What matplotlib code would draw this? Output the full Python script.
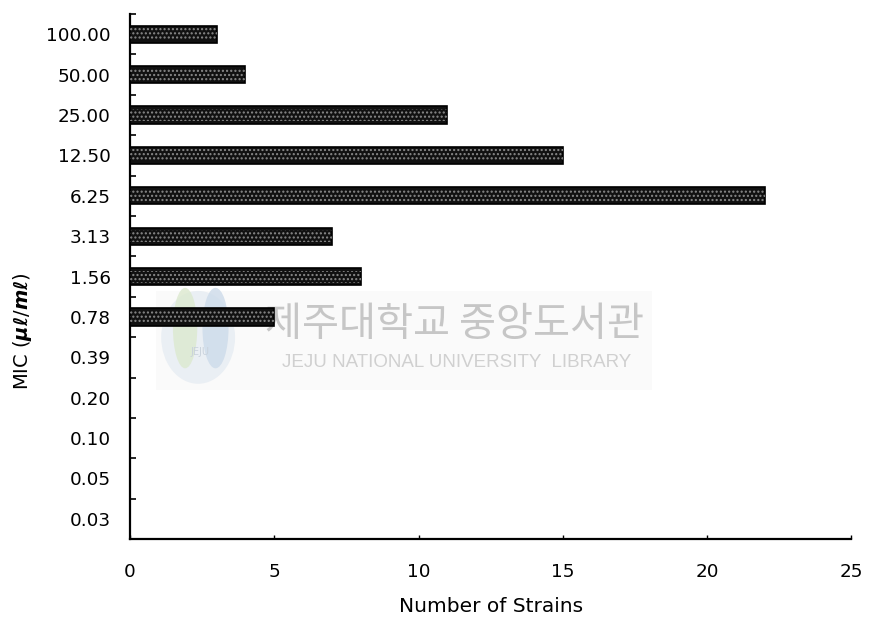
import matplotlib
matplotlib.use("Agg")
import matplotlib.pyplot as plt
from matplotlib.patches import Ellipse, Rectangle
import numpy as np

# MIC concentrations (µl/ml), top to bottom
mic_labels = ["100.00", "50.00", "25.00", "12.50", "6.25", "3.13", "1.56",
              "0.78", "0.39", "0.20", "0.10", "0.05", "0.03"]
# number of strains at each MIC
strain_counts = [3, 4, 11, 15, 22, 7, 8, 5, 0, 0, 0, 0, 0]
x_ticks = [0, 5, 10, 15, 20, 25]

plt.rcParams["font.family"] = ["DejaVu Sans"]
plt.rcParams["mathtext.fontset"] = "custom"
plt.rcParams["mathtext.it"] = "DejaVu Sans:bold:italic"
plt.rcParams["mathtext.rm"] = "DejaVu Sans:bold"

fig = plt.figure(figsize=(8.69, 6.19), dpi=100)
fig.patch.set_facecolor("white")
ax = fig.add_axes([0.1496, 0.1292, 0.830, 0.848])
ax.set_zorder(2)
ax.patch.set_alpha(0)

pos = np.arange(len(mic_labels))
ax.barh(pos, strain_counts, height=0.43, color="#111111",
        edgecolor="black", linewidth=1.2, zorder=3)
# speckled texture on the bars
ax.barh(pos, strain_counts, height=0.30, color="none",
        edgecolor="#8a8a8a", linewidth=0, hatch="....", zorder=4)

ax.set_xlim(0, 25)
ax.set_ylim(len(mic_labels) - 0.5, -0.5)

# category boundaries carry the tick marks, centres carry the labels
ax.set_yticks(np.arange(-0.5, len(mic_labels), 1.0))
ax.set_yticklabels([])
ax.set_yticks(pos, minor=True)
ax.set_yticklabels(mic_labels, minor=True, fontsize=13.2)
ax.tick_params(axis="y", which="major", direction="in", length=4,
               width=1.2, left=True)
ax.tick_params(axis="y", which="minor", length=0, pad=14)

ax.set_xticks(x_ticks)
ax.set_xticklabels([str(t) for t in x_ticks], fontsize=13.2)
ax.tick_params(axis="x", direction="in", length=3, width=1.0, pad=17)

for side in ("top", "right"):
    ax.spines[side].set_visible(False)
for side in ("left", "bottom"):
    ax.spines[side].set_linewidth(1.6)

ax.set_xlabel("Number of Strains", fontsize=14.5, labelpad=12)
fig.text(0.026, 0.465, r"MIC ($\mu\ell$/$m\ell$)", rotation=90,
         fontsize=14, ha="center", va="center")

# faint library watermark
fig.patches.append(Rectangle((0.18, 0.37), 0.57, 0.16,
                             transform=fig.transFigure,
                             facecolor="#fafafa", edgecolor="none",
                             zorder=0))
fig.patches.append(Ellipse((0.228, 0.455), 0.085, 0.15,
                           transform=fig.transFigure,
                           facecolor="#eaeff4", edgecolor="none",
                           zorder=0.5))
fig.patches.append(Ellipse((0.213, 0.47), 0.028, 0.13,
                           transform=fig.transFigure,
                           facecolor="#dce9cf", edgecolor="none",
                           alpha=0.8, zorder=0.6))
fig.patches.append(Ellipse((0.248, 0.47), 0.03, 0.13,
                           transform=fig.transFigure,
                           facecolor="#cddbea", edgecolor="none",
                           alpha=0.8, zorder=0.6))
fig.text(0.230, 0.432, "JEJU", fontsize=7, color="#c9d2dc",
         ha="center", va="center", zorder=1)
fig.text(0.523, 0.475, "제주대학교 중앙도서관", fontsize=29,
         family=["Noto Sans CJK KR", "DejaVu Sans"],
         color="#c6c6c6", ha="center", va="center", zorder=1)
fig.text(0.525, 0.415, "JEJU NATIONAL UNIVERSITY  LIBRARY", fontsize=13.5,
         family=["Liberation Sans", "DejaVu Sans"],
         color="#d0d0d0", ha="center", va="center", zorder=1)

fig.savefig("out.png", dpi=100, facecolor="white")
